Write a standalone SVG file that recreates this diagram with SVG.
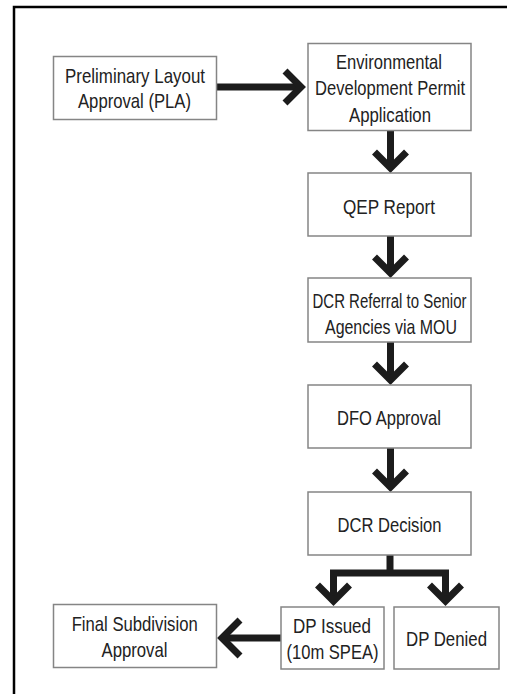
<svg xmlns="http://www.w3.org/2000/svg" width="507" height="694" viewBox="0 0 507 694">
<style>
.box{fill:#fff;stroke:#858585;stroke-width:1.5}
.t{font-family:"Liberation Sans Narrow","Liberation Sans",Arial,sans-serif;font-size:21px;fill:#222;text-anchor:middle}
.c{fill:none;stroke:#1c1c1c;stroke-width:7;stroke-linejoin:miter;stroke-miterlimit:10}
.frame{fill:none;stroke:#000;stroke-width:2.5}
</style>
<rect width="507" height="694" fill="#fff"/>
<path class="frame" d="M14,694 V7 H507"/>
<g id="connectors">
  <path class="c" d="M217,87 H300"/>
  <polyline class="c" points="285,71 301,87 285,103"/>
  <path class="c" d="M390.5,131 V168"/>
  <polyline class="c" points="374.5,152 390.5,168 406.5,152"/>
  <path class="c" d="M390.5,236 V273"/>
  <polyline class="c" points="374.5,257 390.5,273 406.5,257"/>
  <path class="c" d="M390.5,342 V380"/>
  <polyline class="c" points="374.5,364 390.5,380 406.5,364"/>
  <path class="c" d="M390.5,448 V487"/>
  <polyline class="c" points="374.5,471 390.5,487 406.5,471"/>
  <path class="c" d="M390,555 V573"/>
  <path class="c" d="M333.5,601 V573 H445.5 V601"/>
  <polyline class="c" points="317.5,585 333.5,601 349.5,585"/>
  <polyline class="c" points="429.5,585 445.5,601 461.5,585"/>
  <path class="c" d="M281,638 H223"/>
  <polyline class="c" points="240,620 222,638 240,656"/>
</g>
<g id="pla">
  <rect class="box" x="53.5" y="56.5" width="163" height="63"/>
  <text class="t" x="135" y="82.5" textLength="140" lengthAdjust="spacingAndGlyphs">Preliminary Layout</text>
  <text class="t" x="134.5" y="108" textLength="113" lengthAdjust="spacingAndGlyphs">Approval (PLA)</text>
</g>
<g id="env">
  <rect class="box" x="308" y="43.5" width="163" height="87"/>
  <text class="t" x="389" y="68.5" textLength="106" lengthAdjust="spacingAndGlyphs">Environmental</text>
  <text class="t" x="390" y="95" textLength="150" lengthAdjust="spacingAndGlyphs">Development Permit</text>
  <text class="t" x="390" y="121.5" textLength="82" lengthAdjust="spacingAndGlyphs">Application</text>
</g>
<g id="qep">
  <rect class="box" x="308" y="173" width="163" height="63"/>
  <text class="t" x="389" y="213.5" textLength="92" lengthAdjust="spacingAndGlyphs">QEP Report</text>
</g>
<g id="referral">
  <rect class="box" x="308" y="278" width="163" height="64"/>
  <text class="t" x="389.5" y="307.5" textLength="154" lengthAdjust="spacingAndGlyphs" style="font-size:20px">DCR Referral to Senior</text>
  <text class="t" x="391" y="333.5" textLength="132" lengthAdjust="spacingAndGlyphs">Agencies via MOU</text>
</g>
<g id="dfo">
  <rect class="box" x="308" y="385" width="163" height="63"/>
  <text class="t" x="389" y="425" textLength="104" lengthAdjust="spacingAndGlyphs">DFO Approval</text>
</g>
<g id="decision">
  <rect class="box" x="308" y="492" width="163" height="63"/>
  <text class="t" x="389.5" y="531.5" textLength="104" lengthAdjust="spacingAndGlyphs">DCR Decision</text>
</g>
<g id="final">
  <rect class="box" x="53.5" y="604.5" width="163" height="63"/>
  <text class="t" x="134.7" y="631" textLength="126" lengthAdjust="spacingAndGlyphs">Final Subdivision</text>
  <text class="t" x="134.5" y="657" textLength="66" lengthAdjust="spacingAndGlyphs">Approval</text>
</g>
<g id="issued">
  <rect class="box" x="281" y="607" width="103" height="62"/>
  <text class="t" x="332" y="632.5" textLength="78" lengthAdjust="spacingAndGlyphs">DP Issued</text>
  <text class="t" x="332.5" y="659" textLength="92" lengthAdjust="spacingAndGlyphs">(10m SPEA)</text>
</g>
<g id="denied">
  <rect class="box" x="394" y="607" width="105" height="62"/>
  <text class="t" x="446.5" y="646" textLength="81" lengthAdjust="spacingAndGlyphs">DP Denied</text>
</g>
</svg>
